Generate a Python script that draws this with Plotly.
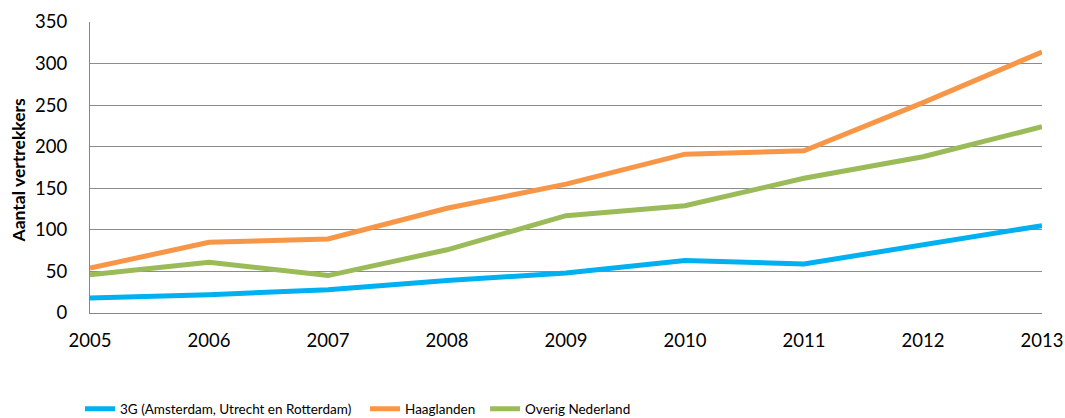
import plotly.graph_objects as go

years = [2005, 2006, 2007, 2008, 2009, 2010, 2011, 2012, 2013]
g3 = [18, 22, 28, 39, 48, 63, 59, 82, 105]
haaglanden = [54, 85, 89, 126, 155, 191, 195, 253, 314]
overig = [46, 61, 45, 76, 117, 129, 162, 188, 224]

names = ["3G (Amsterdam, Utrecht en Rotterdam)", "Haaglanden", "Overig Nederland"]
colors = ["#00B0F0", "#F79646", "#9BBB59"]
series = [g3, haaglanden, overig]
legend_ids = ["legend", "legend2", "legend3"]
legend_x = [-0.0105, 0.2889, 0.415]

fig = go.Figure()
for n, c, s, lg in zip(names, colors, series, legend_ids):
    fig.add_trace(go.Scatter(x=years, y=s, mode="lines", name=n, legend=lg,
                             line=dict(color=c, width=5)))

leg_font = dict(family="Lato, sans-serif", size=13.5, color="black")
leg_common = dict(orientation="h", y=-0.33, yanchor="middle", xanchor="left",
                  font=leg_font, itemwidth=30, bgcolor="rgba(0,0,0,0)")

fig.update_layout(
    width=1065, height=418,
    margin=dict(l=90, r=23, t=22, b=105, autoexpand=False),
    paper_bgcolor="white", plot_bgcolor="white",
    font=dict(family="Lato, Liberation Sans, sans-serif", size=18, color="black"),
    showlegend=True,
    legend=dict(x=legend_x[0], **leg_common),
    legend2=dict(x=legend_x[1], **leg_common),
    legend3=dict(x=legend_x[2], **leg_common),
    xaxis=dict(range=[2005, 2013], tickvals=years, ticktext=[str(y) for y in years],
               showgrid=False, showline=True, linecolor="#868686", linewidth=1,
               ticks="", zeroline=False, automargin=False, ticklabelstandoff=11,
               tickfont=dict(size=18.5)),
    yaxis=dict(range=[0, 350], tickvals=[0, 50, 100, 150, 200, 250, 300, 350],
               showgrid=True, gridcolor="#8C8C8C", gridwidth=1,
               showline=True, linecolor="#868686", linewidth=1, ticks="",
               zeroline=False, automargin=False, ticklabelstandoff=18,
               tickfont=dict(size=18.5)),
    annotations=[dict(text="<b>Aantal vertrekkers</b>", textangle=-90,
                      xref="paper", yref="paper", x=-0.0756, y=0.49,
                      xanchor="center", yanchor="middle", showarrow=False,
                      font=dict(size=17.5))],
)

fig.write_html("out.html", config={"displayModeBar": False},
               post_script="document.body.style.margin='0';document.body.style.overflow='hidden';")
